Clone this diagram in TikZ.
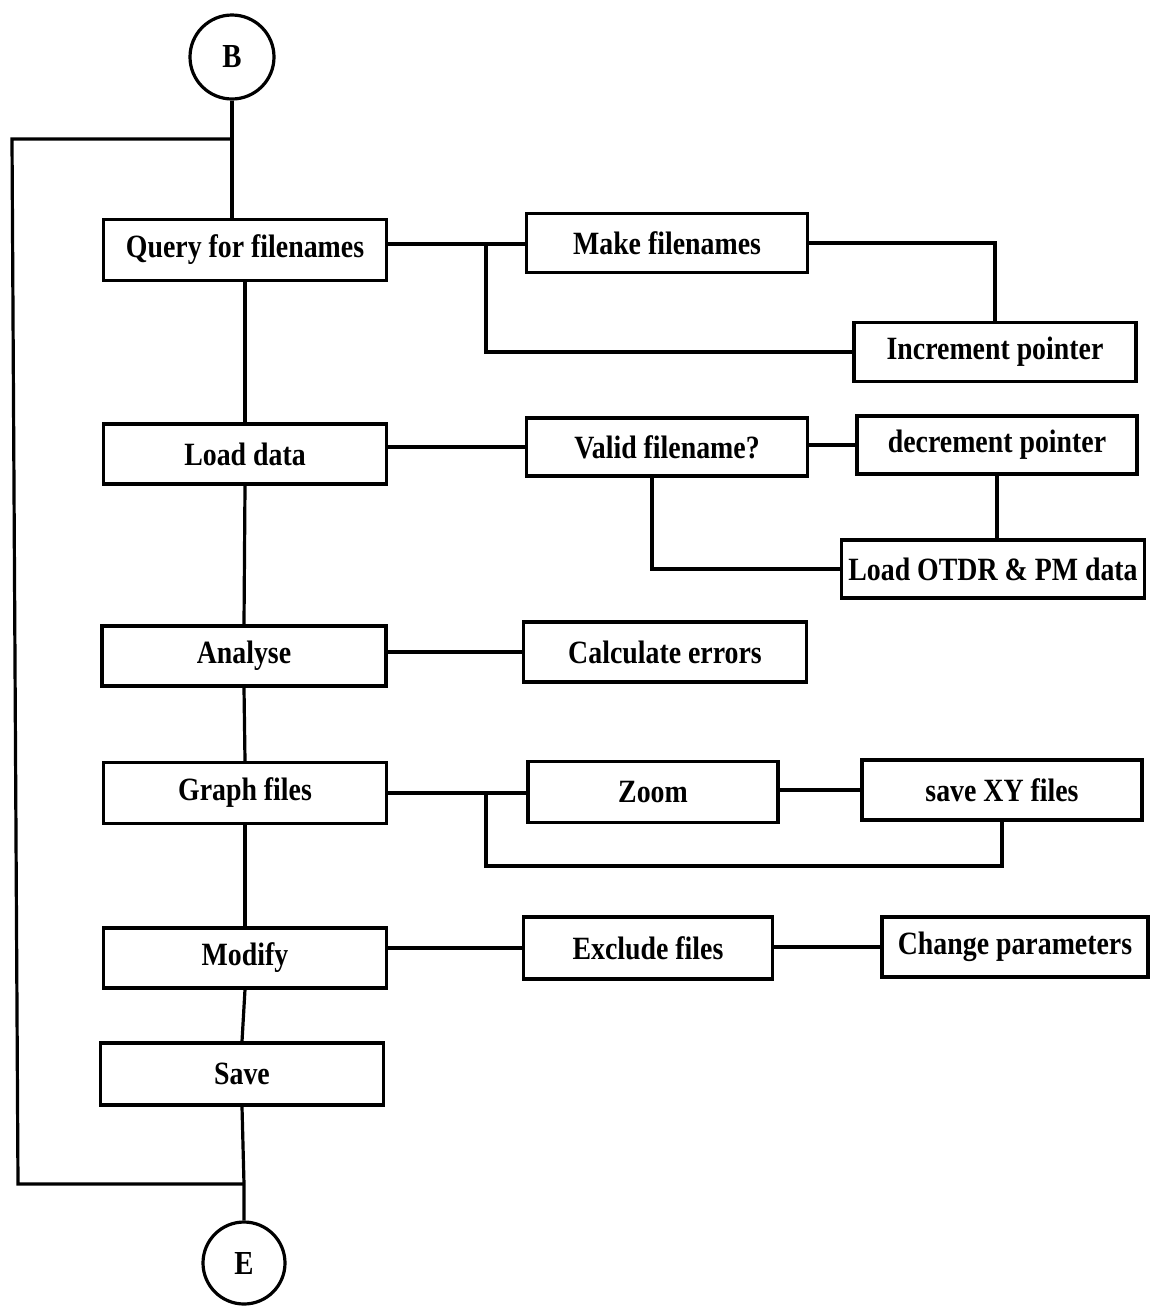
\documentclass[tikz,border=0pt]{standalone}
\usepackage{fontspec}
\setmainfont{Liberation Serif}
\newcommand\lbl[1]{\scalebox{0.96}[1.12]{#1}}
\begin{document}
\begin{tikzpicture}[x=1pt,y=-1pt,line width=3.2pt,
  box/.style={draw,rectangle,inner sep=0pt,font=\fontsize{29}{32}\selectfont\bfseries},
  term/.style={draw,circle,minimum size=84pt,inner sep=0pt,font=\fontsize{30}{32}\selectfont\bfseries}]
\useasboundingbox (0,0) rectangle (1151,1310);
% terminals
\node[term] (B) at (232,57) {\lbl{B}};
\node[term,minimum size=82pt] (E) at (244,1263) {\lbl{E}};
% main column
\node[box,minimum width=283pt,minimum height=61pt] (Q) at (245,250) {\lbl{Query for filenames}};
\node[box,minimum width=283pt,minimum height=60pt] (LD) at (245,454) {\lbl{Load data}};
\node[box,minimum width=284pt,minimum height=60pt] (AN) at (244,656) {\lbl{Analyse}};
\node[box,minimum width=283pt,minimum height=61pt] (GF) at (245,793) {\lbl{Graph files}};
\node[box,minimum width=283pt,minimum height=60pt] (MO) at (245,958) {\lbl{Modify}};
\node[box,minimum width=283pt,minimum height=62pt] (SV) at (242,1074) {\lbl{Save}};
% right side
\node[box,minimum width=281pt,minimum height=59pt] (MF) at (667,243) {\lbl{Make filenames}};
\node[box,minimum width=282pt,minimum height=59pt] (IP) at (995,352) {\lbl{Increment pointer}};
\node[box,minimum width=281pt,minimum height=58pt] (VF) at (667,447) {\lbl{Valid filename?}};
\node[box,minimum width=280pt,minimum height=58pt] (DP) at (997,445) {\lbl{decrement pointer}};
\node[box,minimum width=303pt,minimum height=58pt] (LO) at (993,569) {\lbl{Load OTDR \& PM data}};
\node[box,minimum width=283pt,minimum height=60pt] (CE) at (665,652) {\lbl{Calculate errors}};
\node[box,minimum width=250pt,minimum height=61pt] (ZM) at (653,792) {\lbl{Zoom}};
\node[box,minimum width=280pt,minimum height=60pt] (SX) at (1002,790) {\lbl{save XY files}};
\node[box,minimum width=249pt,minimum height=62pt] (EX) at (648,948) {\lbl{Exclude files}};
\node[box,minimum width=266pt,minimum height=60pt] (CP) at (1015,947) {\lbl{Change parameters}};
% junction coordinates
\coordinate (jt) at (232,139);
\coordinate (tl) at (12,139);
\coordinate (bl) at (18,1184);
\coordinate (jb) at (244,1184);
\coordinate (j1) at (486,244);
\coordinate (j2) at (486,793);
\coordinate (j2b) at (486,866);
% main flow
\draw (B.south) -- (jt) -- (B.south |- Q.north);
\draw (jt) -- (tl) -- (bl) -- (jb);
\draw (Q.south) -- (LD.north);
\draw (LD.south) -- (AN.north);
\draw (AN.south) -- (GF.north);
\draw (GF.south) -- (MO.north);
\draw (MO.south) -- (SV.north);
\draw (SV.south) -- (jb) -- (E.north);
% query branch
\draw (Q.east |- j1) -- (j1) -- (MF.west |- j1);
\draw (j1) |- (IP.west);
\draw (MF.east) -| (IP.north);
% load branch
\draw (LD.east |- VF.west) -- (VF.west);
\draw (VF.east |- DP.west) -- (DP.west);
\draw (DP.south) -- (DP.south |- LO.north);
\draw ([xshift=-15pt]VF.south) |- (LO.west);
% analyse branch
\draw (AN.east |- CE.west) -- (CE.west);
% graph branch
\draw (GF.east |- j2) -- (j2) -- (ZM.west |- j2);
\draw (ZM.east |- SX.west) -- (SX.west);
\draw (j2) -- (j2b) -| (SX.south);
% modify branch
\draw (MO.east |- EX.west) -- (EX.west);
\draw (EX.east |- CP.west) -- (CP.west);
\end{tikzpicture}
\end{document}
